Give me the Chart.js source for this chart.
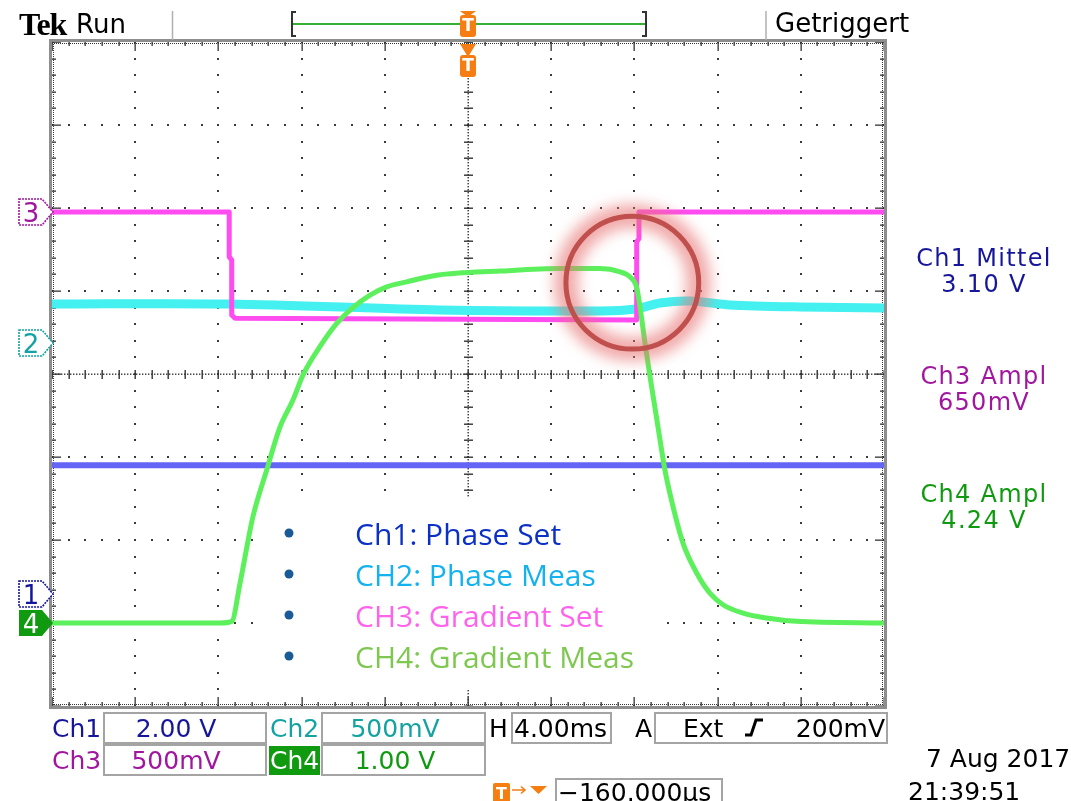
<!DOCTYPE html>
<html>
<head>
<meta charset="utf-8">
<title>Tek Run – Getriggert</title>
<script src="https://cdn.jsdelivr.net/npm/chart.js@4"></script>
<style>
  html, body { margin: 0; padding: 0; background: #fff; }
  #wrap { width: 1071px; height: 801px; position: relative; }
  canvas { display: block; }
</style>
</head>
<body>
<div id="wrap"><canvas id="scope" width="1071" height="801"></canvas></div>
<script>
// ---- acquisition data (time in ms, trigger at screen centre, 4.00 ms/div) ----
const ch1Time  = [-20, 20];
const ch1Volts = [3.10, 3.10];

const ch2Time  = [-20, -11.44, -1.35, 6.35, 8.08, 9.23, 10.67, 12.6, 15.96, 20];
const ch2Volts = [0.235, 0.235, 0.199, 0.193, 0.205, 0.241, 0.253, 0.229, 0.217, 0.211];

const ch3Time  = [-20, -11.48, -11.48, -11.36, -11.36, -11.2, 8.11, 8.11, 8.22, 8.22, 20];
const ch3Volts = [0, 0, -0.27, -0.29, -0.62, -0.64, -0.65, -0.18, -0.16, 0, 0];

const ch4Time  = [-20, -11.92, -11.36, -10.96, -10.34, -9.68, -9.04, -8.41, -7.93, -7.12, -6.31,
                  -5.53, -4.71, -3.91, -2.95, -1.50, 1.54, 4.42, 6.35, 7.31, 7.79, 8.11, 8.27,
                  8.51, 8.75, 9.13, 9.47, 9.86, 10.34, 11.0, 11.63, 12.26, 13.22, 14.36, 15.8, 20];
const ch4Volts = [0, 0, 0.02, 0.48, 1.28, 1.84, 2.36, 2.69, 2.99, 3.33, 3.61,
                  3.80, 3.95, 4.05, 4.11, 4.19, 4.24, 4.27, 4.27, 4.23, 4.17, 4.04, 3.81,
                  3.37, 2.97, 2.37, 1.84, 1.40, 0.96, 0.60, 0.36, 0.22, 0.12, 0.06, 0.02, 0];

// ---- channel settings and readouts ----
const channelNames   = ['Ch1', 'Ch2', 'Ch3', 'Ch4'];
const scaleLabels    = ['2.00 V', '500mV', '500mV', '1.00 V'];
const voltsPerDiv    = [2.0, 0.5, 0.5, 1.0];
const measureTitles  = ['Ch1 Mittel', 'Ch3 Ampl', 'Ch4 Ampl'];
const measureValues  = ['3.10 V', '650mV', '4.24 V'];
const legendLabels   = ['Ch1: Phase Set', 'CH2: Phase Meas', 'CH3: Gradient Set', 'CH4: Gradient Meas'];
const timeBaseLabel  = '4.00ms';
const triggerLabels  = ['Ext', '200mV'];
const hPositionLabel = '\u2212160.000\u00b5s';
const dateLabels     = ['7 Aug 2017', '21:39:51'];

// vertical position of each channel's ground marker, in divisions from centre
const groundDiv = [-2.65, 0.3735, 1.952, -3.0];

const traceColors  = ['#6464f6', '#44f0f0', '#ff4cf0', '#5cf05c'];
const labelColors  = ['#16169c', '#14a2a2', '#a0169f', '#0f9a0f'];
const legendColors = ['#0b30c6', '#14b2ee', '#ff63ec', '#7ec850'];

const FONT = '"DejaVu Sans", sans-serif';

function axisFor(i) {
  return { display: false, min: (-4 - groundDiv[i]) * voltsPerDiv[i], max: (4 - groundDiv[i]) * voltsPerDiv[i] };
}
function points(t, v) { return t.map((x, i) => ({ x, y: v[i] })); }

// ---- graticule: dotted divisions, centre crosshair with ticks, framed border ----
const graticule = {
  id: 'graticule',
  beforeDatasetsDraw(chart) {
    const { ctx, chartArea: a } = chart;
    const dx = (a.right - a.left) / 10, dy = (a.bottom - a.top) / 8;
    ctx.save();
    ctx.fillStyle = '#3a3a3a';
    for (let i = 1; i < 10; i++) {
      if (i === 5) continue;
      const x = Math.round(a.left + i * dx);
      for (let k = 0; k <= 40; k++) ctx.fillRect(x - 1, Math.round(a.top + k * dy / 5) - 1, 2, 2);
    }
    for (let j = 1; j < 8; j++) {
      if (j === 4) continue;
      const y = Math.round(a.top + j * dy);
      for (let k = 0; k <= 50; k++) ctx.fillRect(Math.round(a.left + k * dx / 5) - 1, y - 1, 2, 2);
    }
    const cx = Math.round(a.left + 5 * dx), cy = Math.round(a.top + 4 * dy);
    ctx.fillStyle = '#333';
    for (let x = a.left; x <= a.right; x += 3) ctx.fillRect(x, cy - 0.5, 1.4, 1.4);
    for (let y = a.top; y <= a.bottom; y += 3) ctx.fillRect(cx - 0.5, y, 1.4, 1.4);
    for (let k = 0; k <= 50; k++) ctx.fillRect(Math.round(a.left + k * dx / 5) - 0.5, cy - 4, 1.4, 9);
    for (let k = 0; k <= 40; k++) ctx.fillRect(cx - 4, Math.round(a.top + k * dy / 5) - 0.5, 9, 1.4);

    // border ticks every fifth of a division
    for (let k = 0; k <= 50; k++) {
      const x = Math.round(a.left + k * dx / 5);
      const len = k % 5 === 0 ? 9 : 4;
      ctx.fillRect(x - 0.5, a.top, 1.3, len);
      ctx.fillRect(x - 0.5, a.bottom - len, 1.3, len);
    }
    for (let k = 0; k <= 40; k++) {
      const y = Math.round(a.top + k * dy / 5);
      const len = k % 5 === 0 ? 9 : 4;
      ctx.fillRect(a.left, y - 0.5, len, 1.3);
      ctx.fillRect(a.right - len, y - 0.5, len, 1.3);
    }
    for (let x = a.left; x <= a.right; x += 2) { ctx.fillRect(x, a.top + 1, 1, 1); ctx.fillRect(x, a.bottom - 2, 1, 1); }
    for (let y = a.top; y <= a.bottom; y += 2) { ctx.fillRect(a.left + 1, y, 1, 1); ctx.fillRect(a.right - 2, y, 1, 1); }

    ctx.strokeStyle = '#8e8e8e';
    ctx.lineWidth = 3;
    ctx.strokeRect(a.left - 1.5, a.top - 1.5, a.right - a.left + 3, a.bottom - a.top + 3);

    // white panel behind the trace legend
    ctx.fillStyle = '#fff';
    ctx.fillRect(263, 497, 398, 193);
    ctx.restore();
  }
};

function roundRect(ctx, x, y, w, h, r) {
  ctx.beginPath();
  ctx.moveTo(x + r, y); ctx.lineTo(x + w - r, y); ctx.quadraticCurveTo(x + w, y, x + w, y + r);
  ctx.lineTo(x + w, y + h - r); ctx.quadraticCurveTo(x + w, y + h, x + w - r, y + h);
  ctx.lineTo(x + r, y + h); ctx.quadraticCurveTo(x, y + h, x, y + h - r);
  ctx.lineTo(x, y + r); ctx.quadraticCurveTo(x, y, x + r, y);
  ctx.closePath();
}

function triggerT(ctx, cx, top, triTop) {
  ctx.fillStyle = '#f57d12';
  ctx.beginPath(); ctx.moveTo(cx - 8, triTop); ctx.lineTo(cx + 8, triTop); ctx.lineTo(cx, top + 2); ctx.closePath(); ctx.fill();
  roundRect(ctx, cx - 8, top, 16, 22, 3); ctx.fill();
  ctx.fillStyle = '#fff';
  ctx.font = 'bold 17px ' + FONT; ctx.textAlign = 'center'; ctx.textBaseline = 'middle';
  ctx.fillText('T', cx, top + 12);
}

function channelMarker(ctx, y, digit, color, filled) {
  const x0 = 19, x1 = 42, tip = 53, h = 26;
  ctx.beginPath();
  ctx.moveTo(x0, y - h / 2); ctx.lineTo(x1, y - h / 2); ctx.lineTo(tip, y);
  ctx.lineTo(x1, y + h / 2); ctx.lineTo(x0, y + h / 2); ctx.closePath();
  if (filled) {
    ctx.fillStyle = color; ctx.fill();
  } else {
    ctx.fillStyle = '#fff'; ctx.fill();
    ctx.setLineDash([2, 1]); ctx.strokeStyle = color; ctx.lineWidth = 1.6; ctx.stroke(); ctx.setLineDash([]);
  }
  ctx.fillStyle = filled ? '#fff' : color;
  ctx.font = '26px ' + FONT; ctx.textAlign = 'center'; ctx.textBaseline = 'alphabetic';
  ctx.fillText(digit, 31, y + 10);
}

function box(ctx, x0, y0, x1, y1) {
  ctx.strokeStyle = '#a4a4a4'; ctx.lineWidth = 2;
  ctx.strokeRect(x0, y0, x1 - x0, y1 - y0);
}

// ---- screen furniture: header, markers, readouts, legend and highlight ----
const screenText = {
  id: 'screenText',
  afterDraw(chart) {
    const { ctx, chartArea: a, scales } = chart;
    const dy = (a.bottom - a.top) / 8;
    ctx.save();

    // highlight ring around the gradient switch-off
    const hx = scales.x.getPixelForValue(7.9), hy = a.top + 4 * dy - 1.1 * dy, hr = 0.8 * dy;
    ctx.save();
    ctx.filter = 'blur(7px)';
    ctx.strokeStyle = 'rgba(232,118,118,0.62)'; ctx.lineWidth = 24;
    ctx.beginPath(); ctx.arc(hx, hy, hr, 0, Math.PI * 2); ctx.stroke();
    ctx.restore();
    ctx.strokeStyle = '#c0504d'; ctx.lineWidth = 5;
    ctx.beginPath(); ctx.arc(hx, hy, hr, 0, Math.PI * 2); ctx.stroke();

    // header
    ctx.textAlign = 'left'; ctx.textBaseline = 'alphabetic'; ctx.fillStyle = '#000';
    ctx.font = 'bold 32px "Liberation Serif", serif';
    ctx.letterSpacing = '-1px';
    ctx.fillText('Tek', 19, 35);
    ctx.letterSpacing = '0px';
    ctx.font = '26px ' + FONT;
    ctx.fillText('Run', 76, 33);
    ctx.fillText('Getriggert', 775, 32);

    ctx.strokeStyle = '#b0b0b0'; ctx.lineWidth = 1.5;
    ctx.beginPath(); ctx.moveTo(172.5, 11); ctx.lineTo(172.5, 40); ctx.moveTo(766, 11); ctx.lineTo(766, 40);
    ctx.stroke();

    // record-length bracket
    ctx.strokeStyle = '#333'; ctx.lineWidth = 2;
    ctx.beginPath();
    ctx.moveTo(296, 12); ctx.lineTo(292, 12); ctx.lineTo(292, 36); ctx.lineTo(296, 36);
    ctx.moveTo(642, 12); ctx.lineTo(646, 12); ctx.lineTo(646, 36); ctx.lineTo(642, 36);
    ctx.stroke();
    ctx.strokeStyle = '#35b035'; ctx.lineWidth = 2;
    ctx.beginPath(); ctx.moveTo(293, 24); ctx.lineTo(645, 24); ctx.stroke();

    const tx = scales.x.getPixelForValue(0);
    triggerT(ctx, tx, 15, 11);
    triggerT(ctx, tx, 55, 44);

    // channel ground markers
    const gy = [0, 1, 2, 3].map(i => scales['y' + (i + 1)].getPixelForValue(0));
    channelMarker(ctx, gy[2], '3', labelColors[2], false);
    channelMarker(ctx, gy[1], '2', labelColors[1], false);
    channelMarker(ctx, gy[0], '1', labelColors[0], false);
    channelMarker(ctx, gy[3], '4', labelColors[3], true);

    // measurements
    ctx.textAlign = 'center'; ctx.font = '24px ' + FONT; ctx.letterSpacing = '1.3px';
    const mColors = [labelColors[0], labelColors[2], labelColors[3]];
    const mBase = [266, 384, 502];
    for (let i = 0; i < 3; i++) {
      ctx.fillStyle = mColors[i];
      ctx.fillText(measureTitles[i], 984, mBase[i]);
      ctx.fillText(measureValues[i], 984, mBase[i] + 26);
    }
    ctx.letterSpacing = '0px';

    // vertical and horizontal settings
    box(ctx, 104, 713, 266, 743);
    box(ctx, 322, 713, 485, 743);
    box(ctx, 104, 745, 266, 775);
    box(ctx, 322, 745, 485, 775);
    box(ctx, 512, 713, 611, 743);
    box(ctx, 655, 713, 887, 743);
    box(ctx, 556, 779, 722, 806);

    ctx.font = '25px ' + FONT; ctx.textAlign = 'left';
    const rows = [737, 737, 769, 769];
    const lx = [52, 270, 52, 270];
    const vx = [176, 395, 176, 395];
    for (let i = 0; i < 4; i++) {
      if (i === 3) {
        ctx.fillStyle = labelColors[3];
        ctx.fillRect(269, 746, 51, 29);
        ctx.fillStyle = '#fff';
      } else {
        ctx.fillStyle = labelColors[i];
      }
      ctx.textAlign = 'left';
      ctx.fillText(channelNames[i], lx[i], rows[i]);
      ctx.fillStyle = labelColors[i];
      ctx.textAlign = 'center';
      ctx.fillText(scaleLabels[i], vx[i], rows[i]);
    }

    ctx.fillStyle = '#000'; ctx.textAlign = 'left';
    ctx.fillText('H', 489, 737);
    ctx.fillText(timeBaseLabel, 514, 737);
    ctx.fillText('A', 635, 737);
    ctx.fillText(triggerLabels[0], 683, 737);
    ctx.textAlign = 'right';
    ctx.fillText(triggerLabels[1], 885, 737);

    // rising-edge trigger slope symbol
    ctx.strokeStyle = '#000'; ctx.lineWidth = 3;
    ctx.beginPath(); ctx.moveTo(745, 735); ctx.lineTo(751, 735); ctx.lineTo(756, 720); ctx.lineTo(763, 720); ctx.stroke();

    // horizontal position readout
    ctx.fillStyle = '#f57d12';
    roundRect(ctx, 493, 783, 17, 22, 2); ctx.fill();
    ctx.fillStyle = '#fff'; ctx.font = 'bold 16px ' + FONT; ctx.textAlign = 'center';
    ctx.fillText('T', 501.5, 799);
    ctx.strokeStyle = '#f57d12'; ctx.lineWidth = 1.6;
    ctx.beginPath(); ctx.moveTo(512, 790); ctx.lineTo(525, 790); ctx.moveTo(521, 786.5); ctx.lineTo(525, 790); ctx.lineTo(521, 793.5); ctx.stroke();
    ctx.fillStyle = '#f57d12';
    ctx.beginPath(); ctx.moveTo(530, 786); ctx.lineTo(547, 786); ctx.lineTo(538.5, 794); ctx.closePath(); ctx.fill();

    ctx.fillStyle = '#000'; ctx.font = '25px ' + FONT; ctx.textAlign = 'left';
    ctx.fillText(hPositionLabel, 558, 801);
    ctx.fillText(dateLabels[0], 926, 767);
    ctx.fillText(dateLabels[1], 908, 800);

    // trace legend
    ctx.font = '30px "Open Sans", sans-serif';
    const legBase = [545, 586, 627, 668];
    for (let i = 0; i < 4; i++) {
      ctx.fillStyle = '#1a5a96';
      ctx.beginPath(); ctx.arc(289, legBase[i] - 12, 4.5, 0, Math.PI * 2); ctx.fill();
      ctx.fillStyle = legendColors[i];
      ctx.fillText(legendLabels[i], 355, legBase[i]);
    }
    ctx.restore();
  }
};

const chart = new Chart(document.getElementById('scope'), {
  type: 'line',
  data: {
    datasets: [
      { label: 'Ch4', data: points(ch4Time, ch4Volts), yAxisID: 'y4', borderColor: traceColors[3],
        borderWidth: 5, cubicInterpolationMode: 'monotone', order: 1 },
      { label: 'Ch3', data: points(ch3Time, ch3Volts), yAxisID: 'y3', borderColor: traceColors[2],
        borderWidth: 5, tension: 0, order: 2 },
      { label: 'Ch1', data: points(ch1Time, ch1Volts), yAxisID: 'y1', borderColor: traceColors[0],
        borderWidth: 6, tension: 0, order: 3 },
      { label: 'Ch2', data: points(ch2Time, ch2Volts), yAxisID: 'y2', borderColor: traceColors[1],
        borderWidth: 9, tension: 0.3, order: 4 }
    ]
  },
  options: {
    responsive: false,
    animation: false,
    devicePixelRatio: 1,
    layout: { padding: { left: 52, top: 42, right: 187, bottom: 95 } },
    elements: { point: { radius: 0 }, line: { fill: false, borderJoinStyle: 'round' } },
    plugins: { legend: { display: false }, tooltip: { enabled: false } },
    scales: {
      x: { type: 'linear', display: false, min: -20, max: 20 },
      y1: axisFor(0), y2: axisFor(1), y3: axisFor(2), y4: axisFor(3)
    }
  },
  plugins: [graticule, screenText]
});
</script>
</body>
</html>
